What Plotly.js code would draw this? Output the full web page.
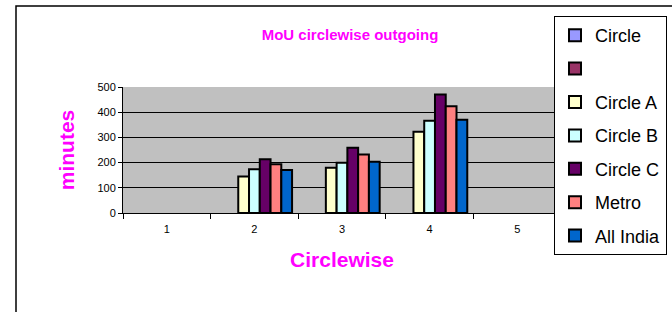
<!DOCTYPE html>
<html>
<head>
<meta charset="utf-8">
<script src="https://cdn.plot.ly/plotly-3.0.1.min.js"></script>
<style>html,body{margin:0;padding:0;background:#fff;}#chart{width:672px;height:312px;}</style>
</head>
<body>
<div id="chart"></div>
<script>
var categories = ['1', '2', '3', '4', '5'];
var seriesNames = ['Circle', ' ', 'Circle A', 'Circle B', 'Circle C', 'Metro', 'All India'];
var circle   = [null, null, null, null, null];
var blank    = [null, null, null, null, null];
var circleA  = [null, 145, 180, 322, null];
var circleB  = [null, 174, 199, 366, null];
var circleC  = [null, 213, 259, 470, null];
var metro    = [null, 193, 232, 424, null];
var allIndia = [null, 171, 203, 370, null];
var seriesValues = [circle, blank, circleA, circleB, circleC, metro, allIndia];
var colors = ['#9999FF', '#993366', '#FFFFCC', '#CCFFFF', '#660066', '#FF8080', '#0066CC'];

var traces = seriesNames.map(function (n, i) {
  return {
    type: 'bar',
    name: n,
    x: categories,
    y: seriesValues[i],
    legendgroup: 'g' + i,
    marker: { color: colors[i], line: { color: '#000', width: 2 } },
    hoverinfo: 'y'
  };
});

var L = 123, R = 561, T = 87, B = 213, W = 672, H = 312;
var pw = R - L, ph = B - T;
function px(x) { return (x - L) / pw; }
function py(y) { return (B - y) / ph; }

var font = 'Liberation Sans, Arial, sans-serif';
var layout = {
  width: W, height: H,
  margin: { l: L, r: W - R, t: T, b: H - B, pad: 0, autoexpand: false },
  paper_bgcolor: '#ffffff',
  plot_bgcolor: '#C0C0C0',
  font: { family: font, color: '#000' },
  barmode: 'group',
  bargap: 0.14,
  bargroupgap: 0,
  showlegend: true,
  title: {
    text: '<b>MoU circlewise outgoing</b>',
    font: { family: font, size: 15, color: '#FF00FF' },
    x: 350 / W, xanchor: 'center', xref: 'container',
    y: 1 - 35 / H, yanchor: 'middle', yref: 'container'
  },
  xaxis: {
    type: 'category',
    tickson: 'boundaries',
    ticks: 'outside', ticklen: 5, tickcolor: '#000', tickwidth: 1,
    ticklabelstandoff: 6,
    showline: true, linecolor: '#000', linewidth: 1,
    showgrid: false, zeroline: false,
    tickfont: { family: font, size: 11, color: '#000' },
    title: { text: '<b>Circlewise</b>', font: { family: font, size: 21, color: '#FF00FF' }, standoff: 18 }
  },
  yaxis: {
    range: [0, 500], dtick: 100, tick0: 0,
    ticks: 'outside', ticklen: 4, tickcolor: '#000',
    showline: true, linecolor: '#000', linewidth: 1,
    showgrid: true, gridcolor: '#000', gridwidth: 1,
    zeroline: false,
    tickfont: { family: font, size: 11, color: '#000' },
    title: { text: '<b>minutes</b>', font: { family: font, size: 21, color: '#FF00FF' }, standoff: 17 }
  },
  legend: {
    x: px(554), xanchor: 'left',
    y: 1 + (T - 16) / ph, yanchor: 'top',
    maxheight: 300,
    bgcolor: '#ffffff', bordercolor: '#000', borderwidth: 1,
    font: { family: font, size: 18, color: '#000' },
    tracegroupgap: 7,
    itemclick: false
  },
  shapes: [{
    type: 'rect', xref: 'paper', yref: 'paper',
    x0: px(16), x1: px(700), y0: py(330), y1: py(6),
    line: { color: '#000', width: 1.5 }, fillcolor: 'rgba(0,0,0,0)', layer: 'below'
  }]
};

Plotly.newPlot('chart', traces, layout, { displayModeBar: false, staticPlot: true });
</script>
</body>
</html>
